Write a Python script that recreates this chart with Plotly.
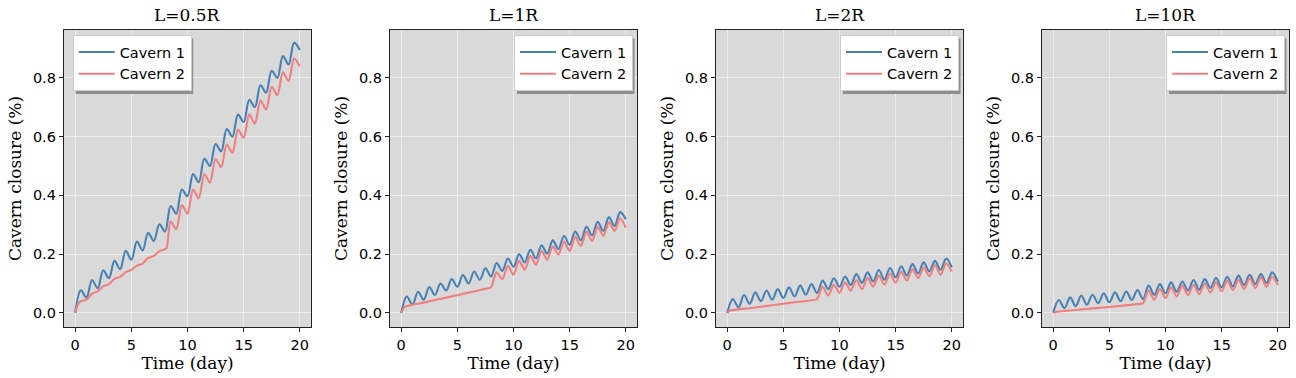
import plotly.graph_objects as go

W, H = 1296, 378

TITLES = ["L=0.5R", "L=1R", "L=2R", "L=10R"]
X_TICKS = [0, 5, 10, 15, 20]
Y_TICKS = [0.0, 0.2, 0.4, 0.6, 0.8]

# Cavern 1 sampled at peaks / troughs (days)
T_C1 = [0, 0.5, 1, 1.5, 2, 2.5, 3, 3.5, 4, 4.5, 5, 5.5, 6, 6.5, 7, 7.5, 8, 8.5, 9, 9.5,
        10, 10.5, 11, 11.5, 12, 12.5, 13, 13.5, 14, 14.5, 15, 15.5, 16, 16.5, 17, 17.5,
        18, 18.5, 19, 19.5, 20]

C1_L05 = [0, 0.077, 0.052, 0.112, 0.084, 0.145, 0.118, 0.177, 0.149, 0.211, 0.181, 0.243,
          0.213, 0.273, 0.245, 0.302, 0.277, 0.364, 0.338, 0.42, 0.397, 0.473, 0.445, 0.525,
          0.5, 0.575, 0.55, 0.626, 0.6, 0.675, 0.65, 0.725, 0.70, 0.775, 0.75, 0.824, 0.80,
          0.874, 0.846, 0.92, 0.895]
C1_L1 = [0, 0.056, 0.028, 0.072, 0.045, 0.088, 0.061, 0.10, 0.076, 0.115, 0.089, 0.129,
         0.10, 0.141, 0.113, 0.152, 0.124, 0.17, 0.143, 0.185, 0.157, 0.20, 0.172, 0.215,
         0.186, 0.23, 0.202, 0.247, 0.217, 0.262, 0.232, 0.277, 0.247, 0.293, 0.264, 0.31,
         0.279, 0.326, 0.296, 0.343, 0.319]
C1_L2 = [0, 0.047, 0.019, 0.061, 0.031, 0.07, 0.04, 0.076, 0.045, 0.081, 0.051, 0.087,
         0.056, 0.093, 0.062, 0.098, 0.068, 0.11, 0.081, 0.118, 0.089, 0.124, 0.095, 0.132,
         0.102, 0.138, 0.107, 0.146, 0.113, 0.153, 0.121, 0.159, 0.127, 0.166, 0.134, 0.172,
         0.141, 0.177, 0.147, 0.185, 0.155]
C1_L10 = [0, 0.044, 0.016, 0.053, 0.023, 0.059, 0.028, 0.062, 0.033, 0.067, 0.036, 0.07,
          0.04, 0.073, 0.044, 0.078, 0.047, 0.093, 0.061, 0.098, 0.067, 0.104, 0.072, 0.107,
          0.076, 0.112, 0.079, 0.115, 0.085, 0.119, 0.087, 0.123, 0.09, 0.127, 0.095, 0.13,
          0.098, 0.132, 0.102, 0.138, 0.106]

# Cavern 2
T_C2_L05 = [0, 0.25, 0.5, 1, 1.5, 2, 2.5, 3, 3.5, 4, 4.5, 5, 5.5, 6, 6.5, 7, 7.5, 8, 8.15,
            8.5, 9, 9.5, 10, 10.5, 11, 11.5, 12, 12.5, 13, 13.5, 14, 14.5, 15, 15.5, 16,
            16.5, 17, 17.5, 18, 18.5, 19, 19.5, 20]
C2_L05 = [0, 0.03, 0.04, 0.045, 0.066, 0.073, 0.091, 0.098, 0.116, 0.123, 0.139, 0.146,
          0.161, 0.168, 0.187, 0.194, 0.21, 0.217, 0.222, 0.311, 0.285, 0.367, 0.338, 0.42,
          0.39, 0.473, 0.443, 0.524, 0.496, 0.573, 0.545, 0.624, 0.596, 0.675, 0.644, 0.723,
          0.692, 0.77, 0.741, 0.82, 0.789, 0.866, 0.84]

T_C2 = [0, 0.3, 2, 4, 6, 7.5, 7.95, 8.05, 8.5, 9, 9.5, 10, 10.5, 11, 11.5, 12, 12.5, 13,
        13.5, 14, 14.5, 15, 15.5, 16, 16.5, 17, 17.5, 18, 18.5, 19, 19.5, 20]
C2_L1 = [0, 0.02, 0.035, 0.052, 0.069, 0.082, 0.086, 0.09, 0.138, 0.115, 0.16, 0.13, 0.177,
         0.147, 0.194, 0.164, 0.211, 0.181, 0.226, 0.198, 0.243, 0.211, 0.259, 0.228, 0.276,
         0.245, 0.293, 0.262, 0.308, 0.279, 0.322, 0.29]
C2_L2 = [0, 0.008, 0.016, 0.026, 0.036, 0.043, 0.046, 0.049, 0.089, 0.059, 0.096, 0.068,
         0.104, 0.076, 0.112, 0.081, 0.119, 0.089, 0.127, 0.096, 0.134, 0.102, 0.141, 0.11,
         0.149, 0.118, 0.155, 0.124, 0.163, 0.13, 0.169, 0.141]
C2_L10 = [0, 0.004, 0.01, 0.017, 0.024, 0.03, 0.032, 0.035, 0.076, 0.045, 0.081, 0.051,
          0.087, 0.056, 0.093, 0.061, 0.096, 0.064, 0.10, 0.07, 0.104, 0.073, 0.11, 0.078,
          0.113, 0.081, 0.118, 0.085, 0.121, 0.089, 0.123, 0.095]

PANELS = [
    (T_C1, C1_L05, T_C2_L05, C2_L05),
    (T_C1, C1_L1, T_C2, C2_L1),
    (T_C1, C1_L2, T_C2, C2_L2),
    (T_C1, C1_L10, T_C2, C2_L10),
]

BLUE = "#4682b4"
RED = "#f08080"
BG = "#d9d9d9"
GRID = "#ececec"
FRAME = "#222222"

LEFTS = [64, 390, 716, 1042]
PW = 247
TOP, BOT = 30, 327

fig = go.Figure()
layout = dict(
    width=W, height=H, paper_bgcolor="white", plot_bgcolor=BG,
    margin=dict(l=0, r=0, t=0, b=0, autoexpand=False), showlegend=True,
    font=dict(family="DejaVu Sans", size=14, color="black"),
)
annotations = []
shapes = []

for i, (tc1, c1, tc2, c2) in enumerate(PANELS):
    k = "" if i == 0 else str(i + 1)
    leg = "legend" if i == 0 else f"legend{i + 1}"
    fig.add_trace(go.Scatter(x=tc1, y=c1, mode="lines", name="Cavern 1",
                             line=dict(color=BLUE, width=2.1, shape="spline", smoothing=1.0),
                             xaxis="x" + k, yaxis="y" + k, legend=leg))
    fig.add_trace(go.Scatter(x=tc2, y=c2, mode="lines", name="Cavern 2",
                             line=dict(color=RED, width=2.1, shape="spline", smoothing=0.8),
                             xaxis="x" + k, yaxis="y" + k, legend=leg))
    x0 = LEFTS[i] / W
    x1 = (LEFTS[i] + PW) / W
    ax = dict(
        domain=[x0, x1], range=[-1, 21], tickvals=X_TICKS,
        ticks="outside", ticklen=4, tickwidth=1, tickcolor=FRAME,
        showline=True, linecolor=FRAME, linewidth=1.3, mirror=True,
        showgrid=True, gridcolor=GRID, gridwidth=1, zeroline=False,
        tickfont=dict(family="DejaVu Sans", size=14.5, color="black"),
        title=dict(text="Time (day)", font=dict(family="DejaVu Serif", size=17, color="black"),
                   standoff=5),
        anchor="y" + k, automargin=False,
    )
    ay = dict(
        domain=[1 - BOT / H, 1 - TOP / H], range=[-0.048, 0.963], tickvals=Y_TICKS,
        tickformat=".1f",
        ticks="outside", ticklen=4, tickwidth=1, tickcolor=FRAME,
        showline=True, linecolor=FRAME, linewidth=1.3, mirror=True,
        showgrid=True, gridcolor=GRID, gridwidth=1, zeroline=False,
        tickfont=dict(family="DejaVu Sans", size=14.5, color="black"),
        title=dict(text="Cavern closure (%)", font=dict(family="DejaVu Serif", size=17, color="black"),
                   standoff=6),
        anchor="x" + k, automargin=False,
    )
    layout["xaxis" + k] = ax
    layout["yaxis" + k] = ay

    annotations.append(dict(text=TITLES[i], x=(x0 + x1) / 2, y=1 - 14.5 / H, xref="paper", yref="paper",
                            xanchor="center", yanchor="middle", showarrow=False,
                            font=dict(family="DejaVu Serif", size=17, color="black")))

    lw, lh = 117.5, 55.5
    if i == 0:
        lx, ly = 72.7, 35
    else:
        lx, ly = LEFTS[i] + PW - 5.5 - lw, 35
    layout[leg] = dict(
        x=lx / W, y=1 - ly / H, xanchor="left", yanchor="top",
        bgcolor="white", bordercolor="#cccccc", borderwidth=1,
        font=dict(family="DejaVu Sans", size=14.5, color="black"),
        itemwidth=36, tracegroupgap=0,
    )
    shapes.append(dict(type="rect", xref="paper", yref="paper", layer="above",
                       x0=(lx + 3) / W, x1=(lx + lw + 3) / W,
                       y0=1 - (ly + lh + 3.5) / H, y1=1 - (ly + 3.5) / H,
                       fillcolor="#8f8f8f", line=dict(width=0)))

layout["annotations"] = annotations
layout["shapes"] = shapes
fig.update_layout(**layout)
fig.write_html("out.html", config={"displayModeBar": False},
               post_script="document.body.style.margin='0';document.body.style.padding='0';")
